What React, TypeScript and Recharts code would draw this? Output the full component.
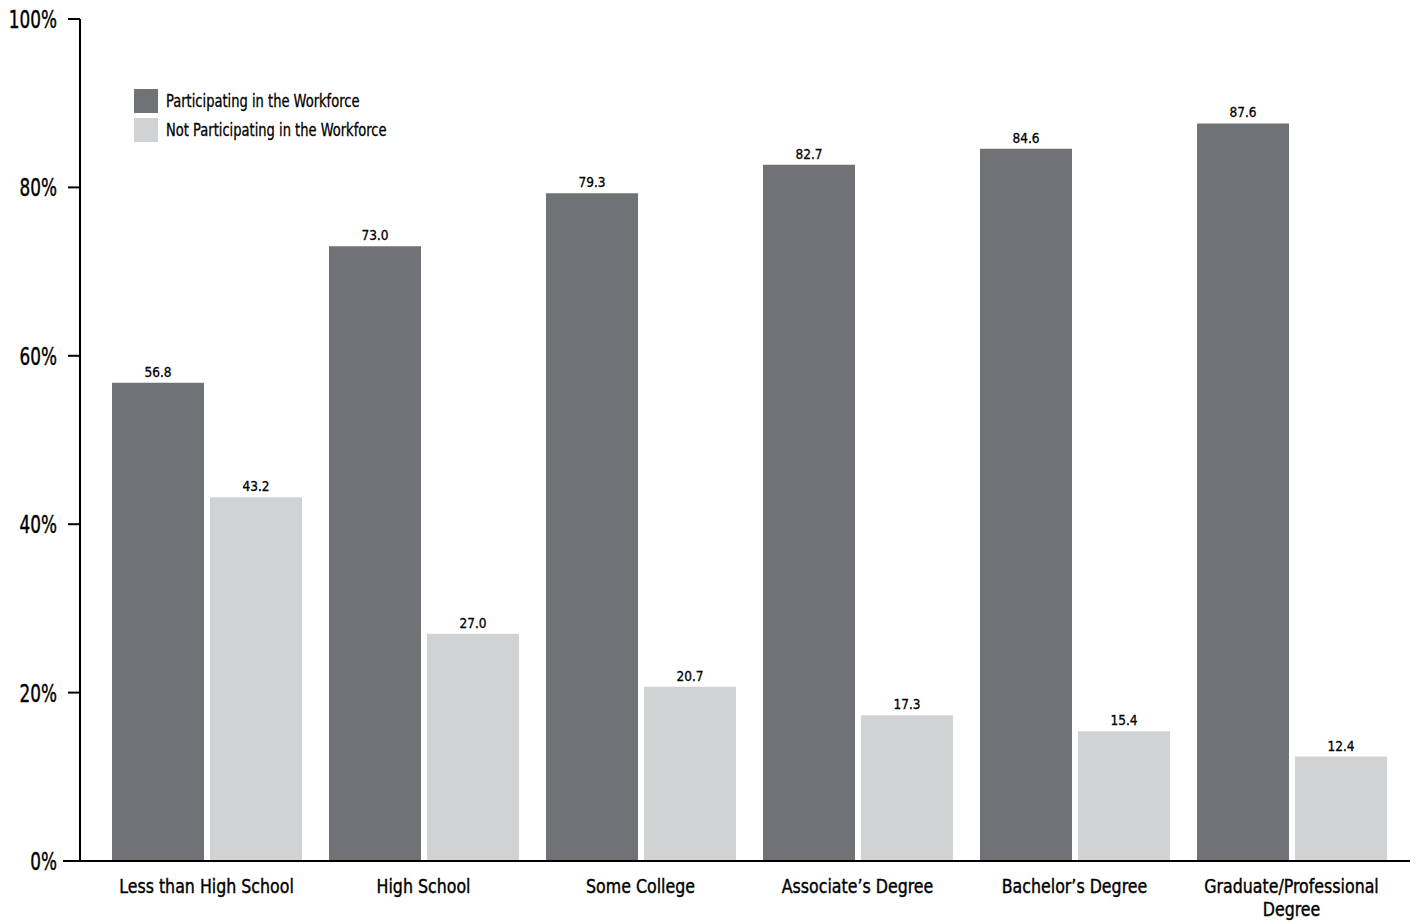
import React from 'react';
import { BarChart, Bar, XAxis, YAxis, LabelList } from 'recharts';

const categories = [
  'Less than High School',
  'High School',
  'Some College',
  "Associate\u2019s Degree",
  "Bachelor\u2019s Degree",
  'Graduate/Professional Degree',
];
const participating = [56.8, 73.0, 79.3, 82.7, 84.6, 87.6];
const notParticipating = [43.2, 27.0, 20.7, 17.3, 15.4, 12.4];
const yTicks = [0, 20, 40, 60, 80, 100];

const FONT = "'DejaVu Sans Condensed', 'Liberation Sans Narrow', sans-serif";
const DARK = '#717276';
const LIGHT = '#d1d2d4';

const data = categories.map((name, i) => ({
  name,
  participating: participating[i],
  notParticipating: notParticipating[i],
}));

// condensed look: squeeze text horizontally around its anchor
const CategoryTick = (props: any) => {
  const { x, y, payload } = props;
  const label: string = payload.value;
  const lines = label.startsWith('Graduate') ? ['Graduate/Professional', 'Degree'] : [label];
  return (
    <g transform={`translate(${x},${y})`}>
      {lines.map((l, i) => (
        <text
          key={i}
          transform="scale(0.88,1)"
          x={0}
          y={24 + i * 23}
          textAnchor="middle"
          fontFamily={FONT}
          fontSize={20}
          fill="#000"
          stroke="#000"
          strokeWidth={0.4}
        >
          {l}
        </text>
      ))}
    </g>
  );
};

const PercentTick = (props: any) => {
  const { x, y, payload } = props;
  return (
    <g>
      {payload.value === 0 && <line x1={x + 5} x2={x + 10} y1={y} y2={y} stroke="#000" strokeWidth={2} />}
      <g transform={`translate(${x - 1},${y})`}>
        <text
          transform="scale(0.78,1)"
          textAnchor="end"
          dy={9}
          fontFamily={FONT}
          fontSize={24}
          fill="#000"
          stroke="#000"
          strokeWidth={0.4}
        >
          {`${payload.value}%`}
        </text>
      </g>
    </g>
  );
};

const LegendBox = () => (
  <div
    style={{
      position: 'absolute',
      left: 134,
      top: 86,
      fontFamily: FONT,
      fontSize: 17.5,
      color: '#000',
      WebkitTextStroke: '0.3px #000',
    }}
  >
    {[
      { label: 'Participating in the Workforce', color: DARK },
      { label: 'Not Participating in the Workforce', color: LIGHT },
    ].map((item) => (
      <div key={item.label} style={{ display: 'flex', alignItems: 'center', height: 29 }}>
        <span style={{ width: 24, height: 24, background: item.color, marginRight: 8, flex: 'none' }} />
        <span style={{ display: 'inline-block', transform: 'scaleX(0.83)', transformOrigin: 'left center', whiteSpace: 'nowrap' }}>
          {item.label}
        </span>
      </div>
    ))}
  </div>
);

const valueLabel = { fontFamily: FONT, fontSize: 13.5, fill: '#000', stroke: '#000', strokeWidth: 0.3 };

export default function App() {
  return (
    <div style={{ position: 'absolute', left: 0, top: 0, width: 1416, height: 924 }}>
      <BarChart
        width={1416}
        height={924}
        data={data}
        margin={{ top: 19, right: 6, bottom: 0, left: 0 }}
        barSize={92}
        barGap={6}
      >
        <XAxis
          dataKey="name"
          tick={<CategoryTick />}
          tickLine={false}
          axisLine={{ stroke: '#000', strokeWidth: 2 }}
          padding={{ left: 18, right: 10 }}
          interval={0}
          height={63}
        />
        <YAxis
          width={80}
          domain={[0, 100]}
          ticks={yTicks}
          tick={<PercentTick />}
          tickSize={12}
          tickMargin={10}
          axisLine={{ stroke: '#000', strokeWidth: 2 }}
          tickLine={{ stroke: '#000', strokeWidth: 2 }}
        />
        <Bar dataKey="participating" fill={DARK} isAnimationActive={false}>
          <LabelList
            dataKey="participating"
            position="top"
            offset={6}
            formatter={(v: any) => Number(v).toFixed(1)}
            style={valueLabel}
          />
        </Bar>
        <Bar dataKey="notParticipating" fill={LIGHT} isAnimationActive={false}>
          <LabelList
            dataKey="notParticipating"
            position="top"
            offset={6}
            formatter={(v: any) => Number(v).toFixed(1)}
            style={valueLabel}
          />
        </Bar>
      </BarChart>
      <LegendBox />
    </div>
  );
}
